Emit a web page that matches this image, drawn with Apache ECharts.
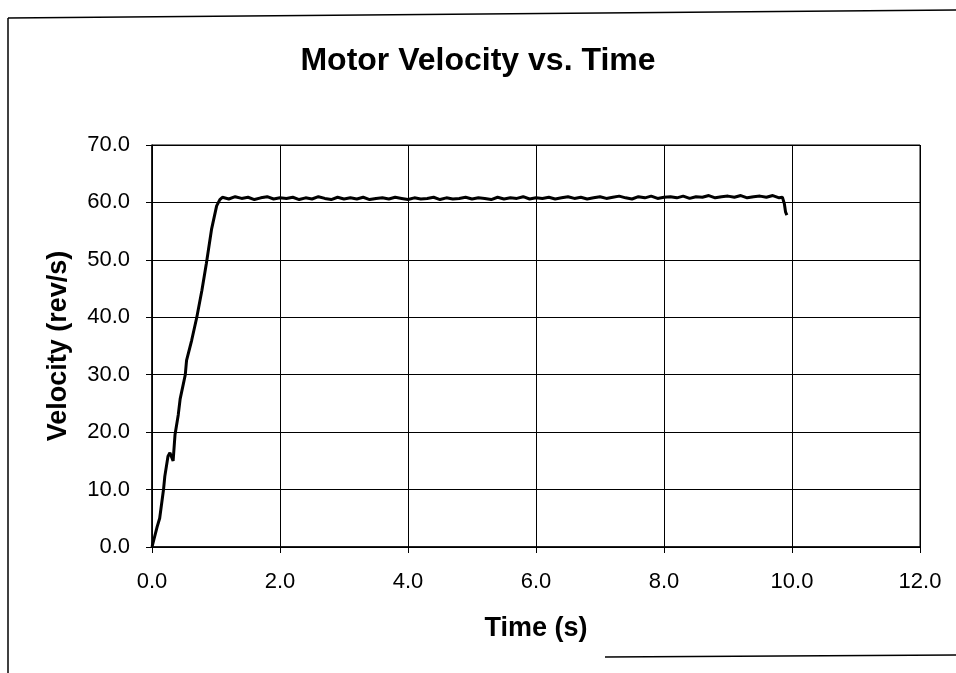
<!DOCTYPE html>
<html>
<head>
<meta charset="utf-8">
<script src="https://cdn.jsdelivr.net/npm/echarts@6/dist/echarts.min.js"></script>
<style>
  html, body { margin: 0; padding: 0; background: #fff; }
</style>
</head>
<body>
<div id="chart" style="width: 956px; height: 673px;"></div>
<script>
// acceleration part
const rampTime = [0.0, 0.02, 0.08, 0.12, 0.18, 0.2, 0.25, 0.28, 0.31, 0.33, 0.36, 0.41, 0.44, 0.49, 0.52, 0.54, 0.62, 0.70, 0.78, 0.85, 0.93, 1.01, 1.06]
const rampVel = [0.0, 0.0, 3.5, 5.0, 10.0, 12.3, 15.8, 16.4, 16.2, 15.0, 19.6, 23.0, 25.8, 28.4, 30.0, 32.5, 36.0, 40.0, 44.7, 49.4, 55.3, 59.4, 60.5]

// steady part
const flatTime = [
  1.1, 1.2, 1.3, 1.4, 1.5, 1.6, 1.7, 1.8, 1.9, 2.0,
  2.1, 2.2, 2.3, 2.4, 2.5, 2.6, 2.7, 2.8, 2.9, 3.0,
  3.1, 3.2, 3.3, 3.4, 3.5, 3.6, 3.7, 3.8, 3.9, 4.0,
  4.1, 4.2, 4.3, 4.4, 4.5, 4.6, 4.7, 4.8, 4.9, 5.0,
  5.1, 5.2, 5.3, 5.4, 5.5, 5.6, 5.7, 5.8, 5.9, 6.0,
  6.1, 6.2, 6.3, 6.4, 6.5, 6.6, 6.7, 6.8, 6.9, 7.0,
  7.1, 7.2, 7.3, 7.4, 7.5, 7.6, 7.7, 7.8, 7.9, 8.0,
  8.1, 8.2, 8.3, 8.4, 8.5, 8.6, 8.7, 8.8, 8.9, 9.0,
  9.1, 9.2, 9.3, 9.4, 9.5, 9.6, 9.7, 9.8
]
const flatVel = [
  60.9, 60.6, 61.0, 60.7, 60.9, 60.5, 60.8, 61.0, 60.6, 60.8,
  60.7, 60.9, 60.5, 60.8, 60.6, 61.0, 60.7, 60.5, 60.9, 60.6,
  60.8, 60.6, 60.9, 60.5, 60.7, 60.8, 60.6, 60.9, 60.7, 60.5,
  60.8, 60.6, 60.7, 60.9, 60.5, 60.8, 60.6, 60.7, 60.9, 60.6,
  60.8, 60.7, 60.5, 60.9, 60.6, 60.8, 60.7, 61.0, 60.6, 60.8,
  60.7, 60.9, 60.6, 60.8, 61.0, 60.7, 60.9, 60.6, 60.8, 61.0,
  60.7, 60.9, 61.1, 60.8, 60.6, 61.0, 60.8, 61.1, 60.7, 60.9,
  61.0, 60.8, 61.1, 60.7, 61.0, 60.9, 61.2, 60.8, 61.0, 61.1,
  60.9, 61.2, 60.8, 61.0, 61.1, 60.9, 61.2, 60.8
]

// stop at the end
const tailTime = [9.85, 9.88, 9.9, 9.92]
const tailVel = [60.9, 59.8, 58.3, 57.8]

const allTime = rampTime.concat(flatTime, tailTime)
const allVel = rampVel.concat(flatVel, tailVel)
const points = allTime.map((t, i) => [t, allVel[i]])

const font = '"Liberation Sans", Arial, sans-serif'
const myChart = echarts.init(document.getElementById('chart'))
myChart.setOption({
  animation: false,
  backgroundColor: '#fff',
  title: {
    text: 'Motor Velocity vs. Time',
    left: 'center',
    top: 40,
    textStyle: { fontFamily: font, fontSize: 32, fontWeight: 'bold', color: '#000' }
  },
  grid: { left: 152, right: 36, top: 145, bottom: 126, show: true, borderColor: '#000', borderWidth: 1 },
  xAxis: {
    type: 'value',
    min: 0,
    max: 12,
    interval: 2,
    name: 'Time (s)',
    nameLocation: 'middle',
    nameGap: 68,
    nameTextStyle: { fontFamily: font, fontSize: 27, fontWeight: 'bold', color: '#000' },
    axisLine: { lineStyle: { color: '#000', width: 1.5 } },
    axisTick: { show: true, length: 6, lineStyle: { color: '#000' } },
    axisLabel: {
      fontFamily: font, fontSize: 22, color: '#000', margin: 24,
      formatter: v => v.toFixed(1)
    },
    splitLine: { show: true, lineStyle: { color: '#000', width: 1 } }
  },
  yAxis: {
    type: 'value',
    min: 0,
    max: 70,
    interval: 10,
    name: 'Velocity (rev/s)',
    nameLocation: 'middle',
    nameGap: 80,
    nameTextStyle: { fontFamily: font, fontSize: 27, fontWeight: 'bold', color: '#000' },
    axisLine: { show: true, lineStyle: { color: '#000', width: 1.5 } },
    axisTick: { show: true, length: 6, lineStyle: { color: '#000' } },
    axisLabel: {
      fontFamily: font, fontSize: 22, color: '#000', margin: 22,
      formatter: v => v.toFixed(1)
    },
    splitLine: { show: true, lineStyle: { color: '#000', width: 1 } }
  },
  graphic: [
    { type: 'line', shape: { x1: 8, y1: 18, x2: 8, y2: 673 }, style: { stroke: '#000', lineWidth: 1.5 } },
    { type: 'line', shape: { x1: 8, y1: 18, x2: 956, y2: 10 }, style: { stroke: '#000', lineWidth: 1.5 } },
    { type: 'line', shape: { x1: 605, y1: 657, x2: 956, y2: 655 }, style: { stroke: '#000', lineWidth: 1.5 } }
  ],
  series: [
    {
      name: 'Velocity',
      type: 'line',
      data: points,
      showSymbol: false,
      lineStyle: { color: '#000', width: 3 }
    }
  ]
})
</script>
</body>
</html>
